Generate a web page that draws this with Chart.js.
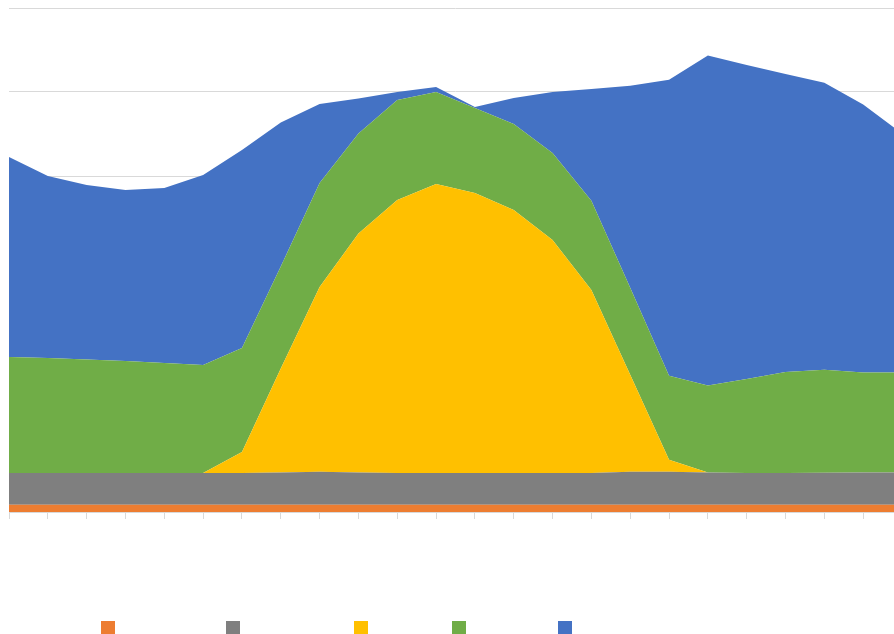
<!DOCTYPE html>
<html>
<head>
<meta charset="utf-8">
<script src="https://cdn.jsdelivr.net/npm/chart.js@4.4.1/dist/chart.umd.min.js"></script>
<style>
  html, body { margin: 0; padding: 0; background: #fff; overflow: hidden; width: 894px; height: 634px; }
  .wrap { position: absolute; left: 0; top: 0; width: 910px; height: 560px; }
  .legend span { position: absolute; top: 621px; width: 14px; height: 14px; }
</style>
</head>
<body>
<div class="wrap"><canvas id="areaChart"></canvas></div>
<div class="legend">
  <span style="left:101px; background:#ED7D31;"></span>
  <span style="left:226px; background:#7F7F7F;"></span>
  <span style="left:354px; background:#FFC000;"></span>
  <span style="left:452px; background:#70AD47;"></span>
  <span style="left:558px; background:#4472C4;"></span>
</div>
<script>
const hours = ['0', '1', '2', '3', '4', '5', '6', '7', '8', '9', '10', '11',
               '12', '13', '14', '15', '16', '17', '18', '19', '20', '21', '22', '23'];

// stacked from the bottom up
const orangeVals = [85, 85, 85, 85, 85, 85, 85, 85, 85, 85, 85, 85,
                    85, 85, 85, 85, 85, 85, 85, 85, 85, 85, 85, 85];
const grayVals = [380, 380, 380, 380, 380, 380, 380, 385, 393, 385, 380, 380,
                  380, 380, 380, 380, 393, 393, 385, 380, 380, 382, 385, 385];
const yellowVals = [0, 0, 0, 0, 0, 0, 250, 1238, 2202, 2845, 3250, 3440,
                    3333, 3131, 2774, 2179, 1155, 143, 0, 0, 0, 0, 0, 0];
const greenVals = [1381, 1369, 1351, 1333, 1310, 1286, 1238, 1214, 1238, 1190, 1190, 1095,
                   1012, 1024, 1036, 1060, 1036, 1000, 1036, 1119, 1202, 1226, 1190, 1190];
const blueVals = [2381, 2167, 2077, 2036, 2083, 2262, 2357, 1714, 940, 417, 95, 60,
                  12, 310, 726, 1333, 2405, 3524, 3929, 3738, 3548, 3417, 3190, 2845];

const yMax = 6000;
const yStep = 1000;

function area(data, color, fill) {
    return {
        data: data,
        backgroundColor: color,
        borderColor: color,
        borderWidth: 0,
        pointRadius: 0,
        tension: 0,
        fill: fill
    };
}

new Chart(document.getElementById('areaChart'), {
    type: 'line',
    data: {
        labels: hours,
        datasets: [
            area(orangeVals, '#ED7D31', 'origin'),
            area(grayVals, '#7F7F7F', '-1'),
            area(yellowVals, '#FFC000', '-1'),
            area(greenVals, '#70AD47', '-1'),
            area(blueVals, '#4472C4', '-1')
        ]
    },
    options: {
        responsive: true,
        maintainAspectRatio: false,
        animation: false,
        layout: { padding: { left: 9, right: 8, top: 8, bottom: 41 } },
        plugins: {
            legend: { display: false },
            tooltip: { enabled: false }
        },
        scales: {
            x: {
                offset: false,
                grid: { drawOnChartArea: false, drawTicks: true, tickLength: 7, color: '#D9D9D9' },
                border: { display: true, color: '#D9D9D9' },
                ticks: { display: false }
            },
            y: {
                stacked: true,
                min: 0,
                max: yMax,
                ticks: { display: false, stepSize: yStep },
                grid: { drawTicks: false, color: '#D9D9D9' },
                border: { display: false }
            }
        }
    }
});
</script>
</body>
</html>
